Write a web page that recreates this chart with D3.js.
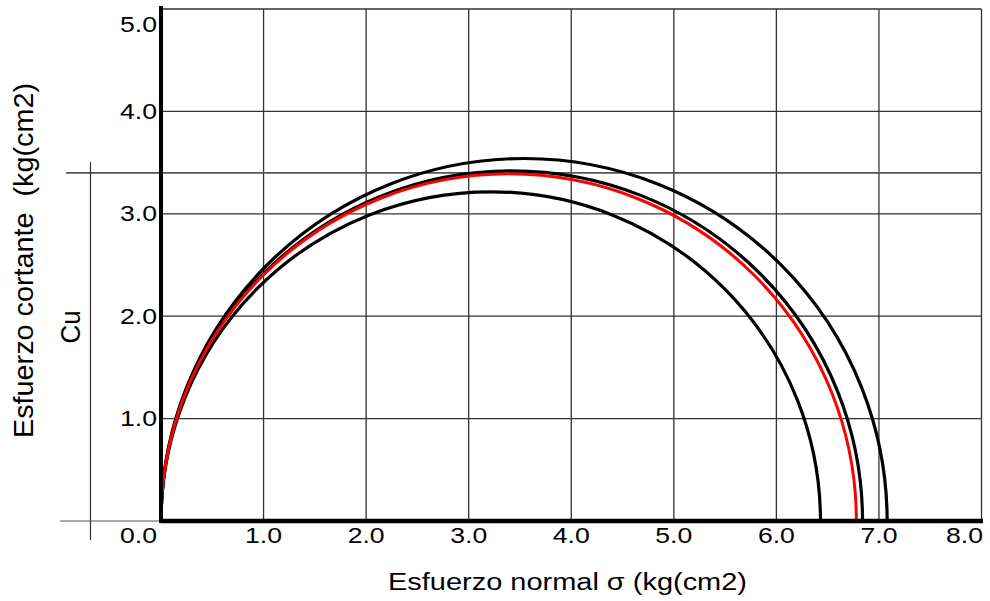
<!DOCTYPE html>
<html>
<head>
<meta charset="utf-8">
<script src="https://cdn.jsdelivr.net/npm/d3@7"></script>
<style>
  html, body { margin: 0; padding: 0; background: #fff; }
  svg { display: block; }
  text { font-family: "Liberation Sans", Arial, sans-serif; fill: #000; white-space: pre; }
</style>
</head>
<body>
<svg id="chart" width="990" height="601"></svg>
<script>
// ---- data ----
const xTicks = [0, 1, 2, 3, 4, 5, 6, 7, 8];
const yTicks = [1, 2, 3, 4, 5];
const xTickLabels = ["0.0", "1.0", "2.0", "3.0", "4.0", "5.0", "6.0", "7.0", "8.0"];
const yTickLabels = ["1.0", "2.0", "3.0", "4.0", "5.0"];
// Mohr circles (black): minor / major principal stresses
const sigma3 = [0, 0, 0];
const sigma1 = [6.43, 6.84, 7.08];
// mean circle (red)
const meanSigma3 = [0];
const meanSigma1 = [6.78];
const cu = [3.4];
const xTitle = "Esfuerzo normal σ (kg(cm2)";
const yTitle = "Esfuerzo cortante  (kg(cm2)";
const cuLabel = "Cu";

// ---- layout ----
const svg = d3.select("#chart");
const x = d3.scaleLinear().domain([0, 8]).range([161, 981.5]);
const y = d3.scaleLinear().domain([0, 5]).range([521, 9]);

const grid = svg.append("g");
// vertical grid lines
grid.selectAll("line.v").data(xTicks.slice(1)).join("line")
  .attr("x1", d => x(d)).attr("x2", d => x(d))
  .attr("y1", y(5)).attr("y2", y(0))
  .attr("stroke", "#333").attr("stroke-width", 1.3);
// horizontal grid lines
grid.selectAll("line.h").data(yTicks).join("line")
  .attr("x1", x(0)).attr("x2", x(8))
  .attr("y1", d => y(d)).attr("y2", d => y(d))
  .attr("stroke", "#333").attr("stroke-width", 1.3);

// Cu reference lines
svg.selectAll("line.cu").data(cu).join("line")
  .attr("x1", 66).attr("x2", x(8))
  .attr("y1", d => y(d)).attr("y2", d => y(d))
  .attr("stroke", "#555").attr("stroke-width", 1.6);
svg.append("line")
  .attr("x1", 90.5).attr("x2", 90.5).attr("y1", 162).attr("y2", 540)
  .attr("stroke", "#333").attr("stroke-width", 1.2);
svg.append("line")
  .attr("x1", 60).attr("x2", x(0)).attr("y1", y(0)).attr("y2", y(0))
  .attr("stroke", "#555").attr("stroke-width", 1.2);

// circles
function arcPath(s3, s1) {
  const rx = (x(s1) - x(s3)) / 2;
  const ry = y(0) - y((s1 - s3) / 2);
  return `M${x(s3)},${y(0)} A${rx},${ry} 0 0 1 ${x(s1)},${y(0)}`;
}
svg.selectAll("path.black").data(sigma1.map((s, i) => [sigma3[i], s])).join("path")
  .attr("d", d => arcPath(d[0], d[1]))
  .attr("fill", "none").attr("stroke", "#000").attr("stroke-width", 3.2);
svg.selectAll("path.red").data(meanSigma1.map((s, i) => [meanSigma3[i], s])).join("path")
  .attr("d", d => arcPath(d[0], d[1]))
  .attr("fill", "none").attr("stroke", "#ff0000").attr("stroke-width", 3);

// axes (thick)
svg.append("line").attr("x1", x(0)).attr("x2", x(0)).attr("y1", 6).attr("y2", y(0) + 2)
  .attr("stroke", "#000").attr("stroke-width", 4);
svg.append("line").attr("x1", x(0)).attr("x2", 983).attr("y1", y(0)).attr("y2", y(0))
  .attr("stroke", "#000").attr("stroke-width", 4.5);

// tick labels
svg.selectAll("text.xt").data(xTicks).join("text")
  .attr("x", (d, i) => i === 0 ? 157 : (i === xTicks.length - 1 ? 983 : x(d)))
  .attr("y", 543)
  .attr("text-anchor", (d, i) => (i === 0 || i === xTicks.length - 1) ? "end" : "middle")
  .attr("font-size", 22)
  .attr("textLength", 37).attr("lengthAdjust", "spacingAndGlyphs")
  .text((d, i) => xTickLabels[i]);
svg.selectAll("text.yt").data(yTicks).join("text")
  .attr("x", 157)
  .attr("y", (d, i) => i === yTicks.length - 1 ? 32 : y(d) + 7.5)
  .attr("text-anchor", "end")
  .attr("font-size", 22)
  .attr("textLength", 37).attr("lengthAdjust", "spacingAndGlyphs")
  .text((d, i) => yTickLabels[i]);

// titles
svg.append("text")
  .attr("x", 567.5).attr("y", 590)
  .attr("text-anchor", "middle")
  .attr("font-size", 23.5)
  .attr("textLength", 359).attr("lengthAdjust", "spacingAndGlyphs")
  .text(xTitle);
svg.append("text")
  .attr("transform", "translate(33,260.5) rotate(-90)")
  .attr("text-anchor", "middle")
  .attr("font-size", 28)
  .attr("xml:space", "preserve")
  .attr("textLength", 355).attr("lengthAdjust", "spacingAndGlyphs")
  .text(yTitle);
svg.append("text")
  .attr("transform", "translate(80,327) rotate(-90)")
  .attr("text-anchor", "middle")
  .attr("font-size", 27)
  .attr("textLength", 33).attr("lengthAdjust", "spacingAndGlyphs")
  .text(cuLabel);
</script>
</body>
</html>
